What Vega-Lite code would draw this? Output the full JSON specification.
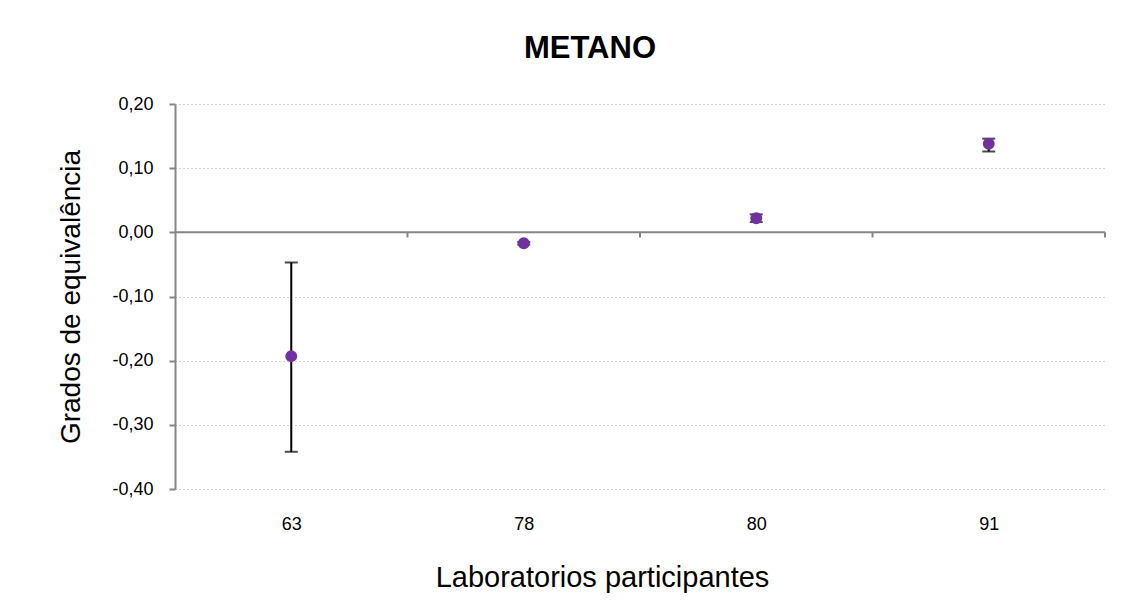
{
  "$schema": "https://vega.github.io/schema/vega-lite/v6.json",
  "autosize": "none",
  "width": 930,
  "height": 385,
  "padding": {"left": 175, "top": 104, "right": 19, "bottom": 121},
  "background": "white",
  "config": {
    "font": "Liberation Sans",
    "view": {"stroke": null}
  },
  "title": {
    "text": "METANO",
    "font": "Liberation Sans",
    "fontSize": 31,
    "fontWeight": "bold",
    "color": "black",
    "anchor": "middle",
    "dx": -50,
    "offset": 30
  },
  "datasets": {
    "labs": [
      {"lab": "63", "pos": 0.5, "value": -0.193, "lo": -0.342, "hi": -0.047},
      {"lab": "78", "pos": 1.5, "value": -0.017, "lo": -0.019, "hi": -0.015},
      {"lab": "80", "pos": 2.5, "value": 0.022, "lo": 0.016, "hi": 0.028},
      {"lab": "91", "pos": 3.5, "value": 0.138, "lo": 0.126, "hi": 0.146}
    ],
    "zeroTicks": [
      {"pos": 1, "y0": 0, "y1": -0.008},
      {"pos": 2, "y0": 0, "y1": -0.008},
      {"pos": 3, "y0": 0, "y1": -0.008},
      {"pos": 4, "y0": 0, "y1": -0.008}
    ],
    "zero": [{"a": 0, "b": 4, "y": 0}]
  },
  "layer": [
    {
      "data": {"name": "labs"},
      "mark": {"type": "point", "opacity": 0},
      "encoding": {
        "x": {
          "field": "pos", "type": "quantitative",
          "scale": {"domain": [0, 4], "nice": false, "zero": false},
          "axis": {
            "values": [0.5, 1.5, 2.5, 3.5],
            "labelExpr": "datum.value == 0.5 ? '63' : datum.value == 1.5 ? '78' : datum.value == 2.5 ? '80' : '91'",
            "title": "Laboratorios participantes",
            "titleFontSize": 29, "titleFontWeight": "normal", "titleColor": "black",
            "titlePadding": 30, "titleX": 427,
            "labelFontSize": 18, "labelColor": "black", "labelPadding": 26,
            "domain": false, "ticks": false, "grid": false
          }
        },
        "y": {
          "field": "value", "type": "quantitative",
          "scale": {"domain": [-0.4, 0.2], "nice": false, "zero": false},
          "axis": {
            "values": [-0.4, -0.3, -0.2, -0.1, 0, 0.1, 0.2],
            "labelExpr": "replace(replace(format(datum.value, '.2f'), '.', ','), '\u2212', '-')",
            "title": "Grados de equivalência",
            "titleFontSize": 28, "titleFontWeight": "normal", "titleColor": "black",
            "titlePadding": 26,
            "labelFontSize": 18, "labelColor": "black", "labelPadding": 16,
            "domain": true, "domainColor": "#868686", "domainWidth": 2,
            "ticks": true, "tickColor": "#868686", "tickSize": 6, "tickWidth": 2,
            "grid": true, "gridColor": "#a6a6a6", "gridDash": [1, 3], "gridWidth": 1
          }
        }
      }
    },
    {
      "data": {"name": "zero"},
      "mark": {"type": "rule", "color": "#868686", "strokeWidth": 2},
      "encoding": {
        "x": {"field": "a", "type": "quantitative"},
        "x2": {"field": "b"},
        "y": {"field": "y", "type": "quantitative"}
      }
    },
    {
      "data": {"name": "zeroTicks"},
      "mark": {"type": "rule", "color": "#868686", "strokeWidth": 2},
      "encoding": {
        "x": {"field": "pos", "type": "quantitative"},
        "y": {"field": "y0", "type": "quantitative"},
        "y2": {"field": "y1"}
      }
    },
    {
      "data": {"name": "labs"},
      "mark": {"type": "rule", "color": "black", "strokeWidth": 2},
      "encoding": {
        "x": {"field": "pos", "type": "quantitative"},
        "y": {"field": "lo", "type": "quantitative"},
        "y2": {"field": "hi"}
      }
    },
    {
      "data": {"name": "labs"},
      "mark": {"type": "tick", "color": "black", "orient": "horizontal", "size": 13, "thickness": 2},
      "encoding": {
        "x": {"field": "pos", "type": "quantitative"},
        "y": {"field": "lo", "type": "quantitative"}
      }
    },
    {
      "data": {"name": "labs"},
      "mark": {"type": "tick", "color": "black", "orient": "horizontal", "size": 13, "thickness": 2},
      "encoding": {
        "x": {"field": "pos", "type": "quantitative"},
        "y": {"field": "hi", "type": "quantitative"}
      }
    },
    {
      "data": {"name": "labs"},
      "mark": {"type": "circle", "color": "#7030a0", "opacity": 1, "size": 140},
      "encoding": {
        "x": {"field": "pos", "type": "quantitative"},
        "y": {"field": "value", "type": "quantitative"}
      }
    }
  ]
}
